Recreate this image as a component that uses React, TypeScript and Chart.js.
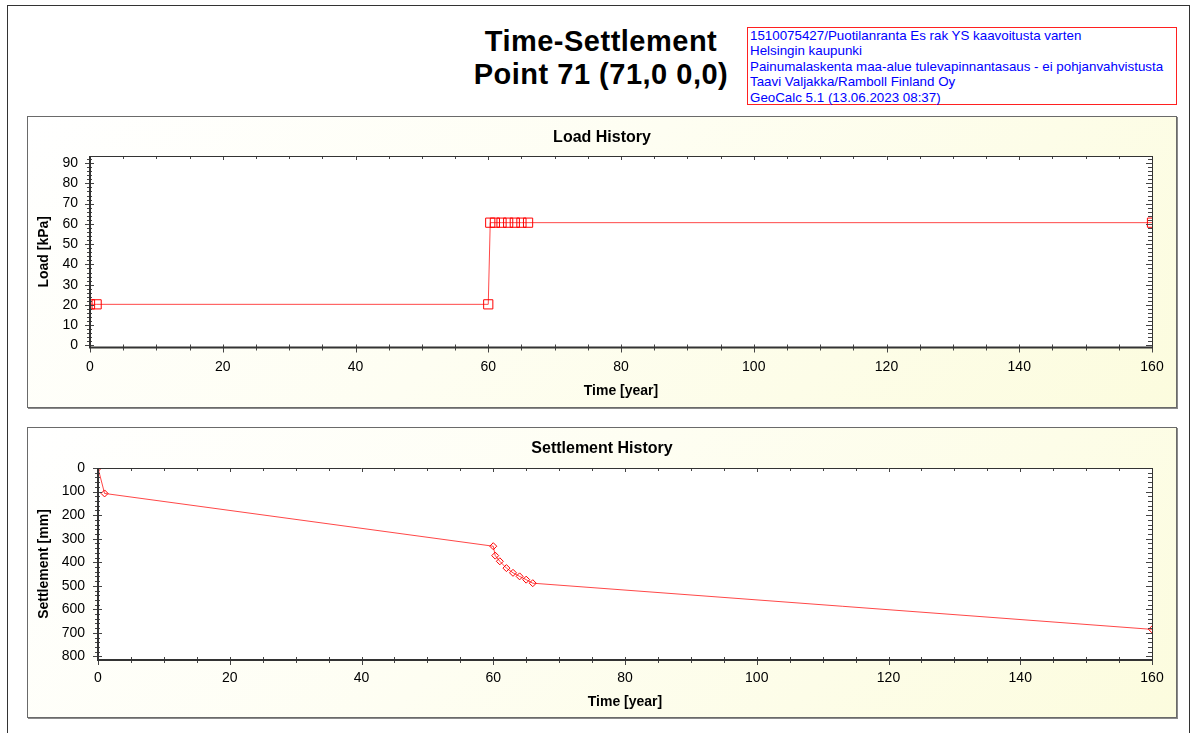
import React, { useEffect, useRef } from 'react';
import { Chart, registerables } from 'chart.js';

Chart.register(...registerables);

// ---- data ----
const TIME_YEARS = [0, 1, 60, 60.3, 61, 62, 63, 64, 65, 66, 160];
const LOAD_KPA = [20.3, 20.3, 20.3, 60.6, 60.6, 60.6, 60.6, 60.6, 60.6, 60.6, 60.6];
const SETTLEMENT_MM = [0, 108, 332, 372, 396, 425, 445, 460, 474, 489, 685];

const TIME_TICKS = [0, 20, 40, 60, 80, 100, 120, 140, 160];
const LOAD_TICKS = [0, 10, 20, 30, 40, 50, 60, 70, 80, 90];
const SETTLEMENT_TICKS = [0, 100, 200, 300, 400, 500, 600, 700, 800];

const TIME_MINOR_STEP = 5;
const LOAD_MINOR_STEP = 2;
const SETTLEMENT_MINOR_STEP = 20;

const TITLE_LINES = ['Time-Settlement', 'Point 71 (71,0 0,0)'];
const INFO_LINES = [
  '1510075427/Puotilanranta Es rak YS kaavoitusta varten',
  'Helsingin kaupunki',
  'Painumalaskenta maa-alue tulevapinnantasaus - ei pohjanvahvistusta',
  'Taavi Valjakka/Ramboll Finland Oy',
  'GeoCalc 5.1 (13.06.2023 08:37)',
];

const FONT = "'Liberation Sans', Arial, sans-serif";

function range(from: number, to: number, step: number) {
  const out: number[] = [];
  for (let v = from; v <= to + 1e-9; v += step) out.push(Math.round(v * 1000) / 1000);
  return out;
}

const framePlugin = {
  id: 'frame',
  beforeDraw(chart: any) {
    const { ctx, chartArea: a } = chart;
    ctx.save();
    ctx.fillStyle = '#ffffff';
    ctx.fillRect(a.left, a.top, a.right - a.left, a.bottom - a.top);
    ctx.restore();
  },
  afterDatasetsDraw(chart: any) {
    const o = chart.options.plugins.frame;
    const { ctx, chartArea: a } = chart;
    const xs = chart.scales.x;
    const ys = chart.scales.y;
    ctx.save();
    // ticks
    ctx.strokeStyle = '#444';
    ctx.lineWidth = 1;
    ctx.beginPath();
    for (const v of o.xMinor) {
      const major = o.xMajor.includes(v);
      const px = Math.round(xs.getPixelForValue(v)) + 0.5;
      ctx.moveTo(px, a.bottom - 3);
      ctx.lineTo(px, a.bottom + (major ? 5 : 3));
      ctx.moveTo(px, a.top);
      ctx.lineTo(px, a.top + (major ? 4 : 3));
    }
    for (const v of o.yMinor) {
      const major = o.yMajor.includes(v);
      const py = Math.round(ys.getPixelForValue(v)) + 0.5;
      ctx.moveTo(a.left - (major ? 5 : 3), py);
      ctx.lineTo(a.left + (major ? 4 : 2), py);
      ctx.moveTo(a.right - (major ? 6 : 4), py);
      ctx.lineTo(a.right, py);
    }
    ctx.stroke();
    // box
    ctx.strokeStyle = '#333';
    ctx.lineWidth = 1;
    ctx.beginPath();
    ctx.moveTo(a.left, a.top + 0.5);
    ctx.lineTo(a.right, a.top + 0.5);
    ctx.moveTo(a.right + 0.5, a.top);
    ctx.lineTo(a.right + 0.5, a.bottom);
    ctx.stroke();
    ctx.lineWidth = 2;
    ctx.beginPath();
    ctx.moveTo(a.left, a.top);
    ctx.lineTo(a.left, a.bottom + 1);
    ctx.moveTo(a.left - 1, a.bottom);
    ctx.lineTo(a.right + 1, a.bottom);
    ctx.stroke();
    // titles
    ctx.fillStyle = '#000';
    ctx.textAlign = 'center';
    ctx.textBaseline = 'middle';
    ctx.font = `bold 16px ${FONT}`;
    ctx.fillText(o.title, chart.width / 2, o.titleY);
    ctx.font = `bold 14px ${FONT}`;
    ctx.fillText(o.xTitle, (a.left + a.right) / 2, o.xTitleY);
    ctx.translate(o.yTitleX, (a.top + a.bottom) / 2);
    ctx.rotate(-Math.PI / 2);
    ctx.fillText(o.yTitle, 0, 0);
    ctx.restore();
  },
};

function buildConfig(p: any): any {
  const points = TIME_YEARS.map((t, i) => ({ x: t, y: p.values[i] }));
  const tickFont = { family: FONT, size: 14 };
  return {
    type: 'line',
    data: {
      datasets: [
        {
          data: points,
          borderColor: 'rgba(255,0,0,0.72)',
          borderWidth: 1,
          pointStyle: p.pointStyle,
          pointRadius: p.pointRadius,
          pointBorderColor: '#ff0000',
          pointBackgroundColor: 'rgba(0,0,0,0)',
          pointBorderWidth: 1,
          tension: 0,
          fill: false,
        },
      ],
    },
    options: {
      animation: false,
      responsive: false,
      devicePixelRatio: 1,
      layout: { padding: { left: 0, right: 25, top: p.padTop, bottom: 0 } },
      plugins: {
        legend: { display: false },
        tooltip: { enabled: false },
        title: { display: false },
        frame: {
          title: p.title,
          titleY: p.titleY,
          xTitle: 'Time [year]',
          xTitleY: p.xTitleY,
          yTitle: p.yTitle,
          yTitleX: 17,
          xMajor: TIME_TICKS,
          xMinor: range(0, 160, TIME_MINOR_STEP),
          yMajor: p.yTicks,
          yMinor: range(p.yMinorFrom, p.yMinorTo, p.yMinorStep),
        },
      },
      scales: {
        x: {
          type: 'linear',
          min: 0,
          max: 160,
          afterBuildTicks: (s: any) => {
            s.ticks = TIME_TICKS.map((v) => ({ value: v }));
          },
          afterFit: (s: any) => {
            s.height = p.xHeight;
          },
          grid: { display: false, drawTicks: false },
          border: { display: false },
          ticks: { font: tickFont, color: '#000', padding: p.xPad, maxRotation: 0, autoSkip: false },
        },
        y: {
          type: 'linear',
          min: p.yMin,
          max: p.yMax,
          reverse: p.reverse,
          afterBuildTicks: (s: any) => {
            s.ticks = p.yTicks.map((v: number) => ({ value: v }));
          },
          afterFit: (s: any) => {
            s.width = p.yWidth;
          },
          grid: { display: false, drawTicks: false },
          border: { display: false },
          ticks: { font: tickFont, color: '#000', padding: p.yPad, autoSkip: false },
        },
      },
    },
    plugins: [framePlugin],
  };
}

function ChartCanvas({ left, top, width, height, params }: any) {
  const ref = useRef<HTMLCanvasElement | null>(null);
  useEffect(() => {
    if (!ref.current) return;
    const chart = new Chart(ref.current, buildConfig(params));
    return () => chart.destroy();
  }, []);
  return (
    <canvas
      ref={ref}
      width={width}
      height={height}
      style={{ position: 'absolute', left, top, width, height }}
    />
  );
}

const panelStyle = (left: number, top: number, width: number, height: number): React.CSSProperties => ({
  position: 'absolute',
  left,
  top,
  width,
  height,
  boxSizing: 'border-box',
  border: '1px solid #6a6a6a',
  boxShadow: '1px 1px 0 #8a8a8a',
  background: 'linear-gradient(135deg, #ffffff 0%, #fefef2 45%, #fcfcde 100%)',
});

export default function App() {
  return (
    <div
      style={{
        position: 'absolute',
        left: 0,
        top: 0,
        width: 1196,
        height: 733,
        background: '#ffffff',
        overflow: 'hidden',
        fontFamily: FONT,
      }}
    >
      <div
        style={{
          position: 'absolute',
          left: 7,
          top: 5,
          width: 1183,
          height: 760,
          boxSizing: 'border-box',
          borderLeft: '1px solid #333',
          borderTop: '1px solid #333',
          borderRight: '1px solid #333',
        }}
      />
      <div
        style={{
          position: 'absolute',
          left: 401,
          top: 25,
          width: 400,
          textAlign: 'center',
          fontWeight: 'bold',
          fontSize: 29,
          lineHeight: '33px',
          letterSpacing: '0.5px',
          color: '#000',
          whiteSpace: 'nowrap',
        }}
      >
        {TITLE_LINES.map((l) => (
          <div key={l}>{l}</div>
        ))}
      </div>
      <div
        style={{
          position: 'absolute',
          left: 747,
          top: 27,
          width: 430,
          height: 78,
          boxSizing: 'border-box',
          border: '1px solid #ff2020',
          paddingLeft: 2,
          color: '#0000ff',
          fontSize: 13.35,
          lineHeight: '15.4px',
          whiteSpace: 'nowrap',
        }}
      >
        {INFO_LINES.map((l) => (
          <div key={l}>{l}</div>
        ))}
      </div>
      <div style={panelStyle(27, 116, 1150, 292)} />
      <div style={panelStyle(27, 427, 1150, 291)} />
      <ChartCanvas
        left={27}
        top={116}
        width={1150}
        height={292}
        params={{
          values: LOAD_KPA,
          pointStyle: 'rect',
          pointRadius: 6.5,
          yMin: -1,
          yMax: 93.5,
          reverse: false,
          yTicks: LOAD_TICKS,
          yMinorFrom: 0,
          yMinorTo: 92,
          yMinorStep: LOAD_MINOR_STEP,
          padTop: 40,
          yWidth: 63,
          xHeight: 60.5,
          xPad: 11,
          yPad: 12,
          title: 'Load History',
          titleY: 22,
          xTitleY: 275,
          yTitle: 'Load [kPa]',
        }}
      />
      <ChartCanvas
        left={27}
        top={427}
        width={1150}
        height={291}
        params={{
          values: SETTLEMENT_MM,
          pointStyle: 'rectRot',
          pointRadius: 3.5,
          yMin: 0,
          yMax: 815,
          reverse: true,
          yTicks: SETTLEMENT_TICKS,
          yMinorFrom: 0,
          yMinorTo: 800,
          yMinorStep: SETTLEMENT_MINOR_STEP,
          padTop: 41,
          yWidth: 71,
          xHeight: 58,
          xPad: 10,
          yPad: 13,
          title: 'Settlement History',
          titleY: 22,
          xTitleY: 275,
          yTitle: 'Settlement [mm]',
        }}
      />
    </div>
  );
}
